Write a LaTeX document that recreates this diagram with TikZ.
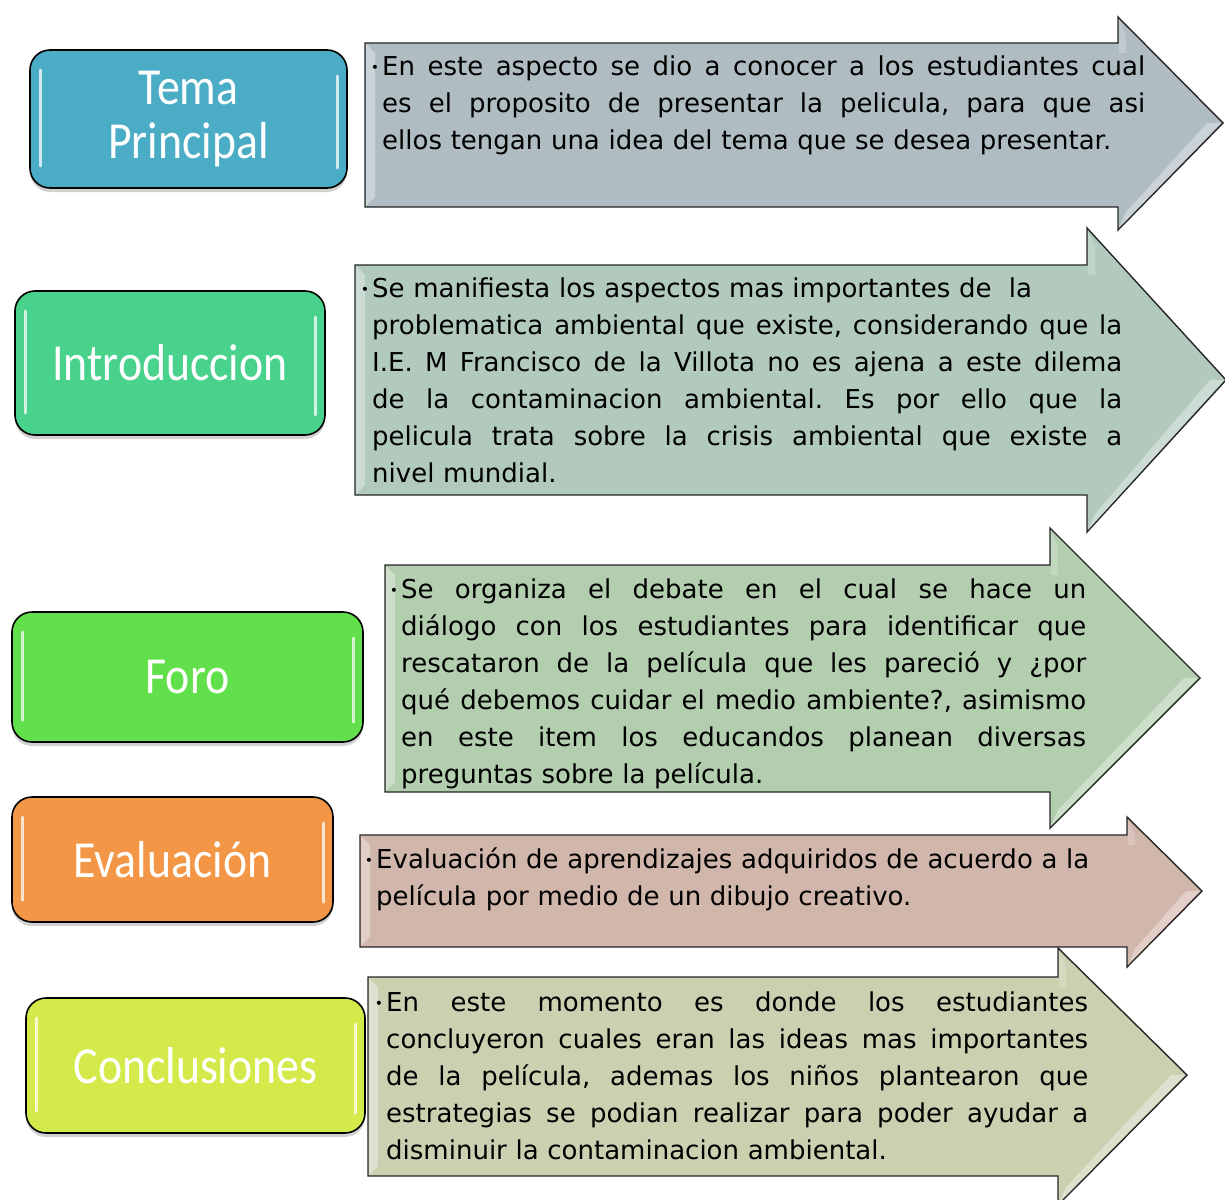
\documentclass[tikz,border=0pt]{standalone}
\usepackage{fontspec}
\setmainfont{DejaVu Sans}
\newfontfamily\labelfont{Carlito}
\usetikzlibrary{shadows}
\definecolor{cA}{HTML}{4BACC6}
\definecolor{cB}{HTML}{49D28C}
\definecolor{cC}{HTML}{62E04B}
\definecolor{cD}{HTML}{F39747}
\definecolor{cE}{HTML}{D4EA4B}
\definecolor{aA}{HTML}{AFBCC2}
\definecolor{aB}{HTML}{B1CABD}
\definecolor{aC}{HTML}{B3CDAF}
\definecolor{aD}{HTML}{D1B6AB}
\definecolor{aE}{HTML}{CDCFB1}
\newcommand{\J}[1]{\leavevmode\hbox to \hsize{\spaceskip=0pt\xspaceskip=0pt #1}}
\newcommand{\bul}{\leavevmode\llap{\raisebox{2.5pt}{\fontsize{14}{14}\selectfont\textbullet}\hspace{3pt}}}
\newcommand{\LS}[1]{\scalebox{0.88}[1]{#1}}
\tikzset{
  lbox/.style={draw=black, line width=1.6pt, rounded corners=20pt,
    drop shadow={opacity=0.35, shadow xshift=0pt, shadow yshift=-4pt},
    text=white, font=\labelfont\fontsize{52}{54}\selectfont, align=center, inner sep=0pt},
  arrowshape/.style={draw=black!85, line width=1.4pt, line join=miter},
  bevel/.style={fill=white, opacity=0.35, draw=none},
  shine/.style={white, line width=3pt, line cap=round, opacity=0.75},
  bodytext/.style={anchor=base west, inner sep=0pt, font=\fontsize{26}{37}\selectfont\frenchspacing, align=left},
}
\newcommand{\ArrowShape}[9]{% L T B HB HT tipx tipy HBot fill
  \path[arrowshape, fill=#9] (#1,#2) -- (#4,#2) -- (#4,#5) -- (#6,#7) -- (#4,#8) -- (#4,#3) -- (#1,#3) -- cycle;
  \path[bevel] (#1+1,#2+1) -- (#1+10,#2+10) -- (#1+10,#3-10) -- (#1+1,#3-1) -- cycle;
  \path[bevel] (#6-2,#7) -- (#4+1,#8-2) -- (#4+8,#8-18) -- (#6-16,#7) -- cycle;
  \path[bevel, opacity=0.2] (#4+1,#5+2) -- (#4+8,#5+18) -- (#4+8,#2+10) -- (#4+1,#2+10) -- cycle;
}
\begin{document}
\begin{tikzpicture}[x=1pt, y=-1pt]
\useasboundingbox (0,0) rectangle (1225,1199);
\clip (0,0) rectangle (1225,1199);
\fill[white] (0,0) rectangle (1225,1199);

% arrows
\ArrowShape{365}{43}{207}{1118}{17}{1223}{123}{230}{aA}
\ArrowShape{355}{265}{495}{1087}{228}{1226}{380}{532}{aB}
\ArrowShape{385}{565}{792}{1050}{528}{1200}{678}{828}{aC}
\ArrowShape{360}{835}{947}{1127}{817}{1202}{891}{967}{aD}
\ArrowShape{368}{977}{1176}{1058}{948}{1187}{1075}{1205}{aE}

% label boxes
\node[lbox, fill=cA, minimum width=317pt, minimum height=138pt] (tema) at (188.5,119) {\LS{Tema}\\\LS{Principal}};
\node[lbox, fill=cB, minimum width=310pt, minimum height=144pt] (intro) at (170,363) {\LS{Introduccion}};
\node[lbox, fill=cC, minimum width=351pt, minimum height=130pt] (foro) at (187.5,677) {\LS{Foro}};
\node[lbox, fill=cD, minimum width=321pt, minimum height=125pt] (eval) at (172.5,859.5) {\LS{Evaluación}};
\node[lbox, fill=cE, minimum width=339pt, minimum height=135pt] (concl) at (195.5,1065.5) {\LS{Conclusiones}};

% glossy highlights
\foreach \n/\l/\r/\t/\b in {tema/30/347/50/188, intro/15/325/291/435, foro/12/363/612/742, eval/12/333/797/922, concl/26/365/998/1133}{
  \draw[shine] (\l+10,\t+20) -- (\l+10,\b-22);
  \draw[shine] (\r-10,\t+26) -- (\r-10,\b-20);
}

% texts
\node[bodytext, text width=763pt] (tA) at (382,75) {\bul\J{En este aspecto se dio a conocer a los estudiantes cual}\\
\J{es el proposito de presentar la pelicula, para que asi}\\
ellos tengan una idea del tema que se desea presentar.};

\node[bodytext, text width=750pt] (tB) at (372,297) {\bul Se manifiesta los aspectos mas importantes de\ \ la\\
\J{problematica ambiental que existe, considerando que la}\\
\J{I.E. M Francisco de la Villota no es ajena a este dilema}\\
\J{de la contaminacion ambiental. Es por ello que la}\\
\J{pelicula trata sobre la crisis ambiental que existe a}\\
nivel mundial.};

\node[bodytext, text width=685pt] (tC) at (401,598) {\bul\J{Se organiza el debate en el cual se hace un}\\
\J{diálogo con los estudiantes para identificar que}\\
\J{rescataron de la película que les pareció y ¿por}\\
\J{qué debemos cuidar el medio ambiente?, asimismo}\\
\J{en este item los educandos planean diversas}\\
preguntas sobre la película.};

\node[bodytext, text width=740pt] (tD) at (376,868) {\bul Evaluación de aprendizajes adquiridos de acuerdo a la\\
película por medio de un dibujo creativo.};

\node[bodytext, text width=702pt] (tE) at (386,1011) {\bul\J{En este momento es donde los estudiantes}\\
\J{concluyeron cuales eran las ideas mas importantes}\\
\J{de la película, ademas los niños plantearon que}\\
\J{estrategias se podian realizar para poder ayudar a}\\
disminuir la contaminacion ambiental.};
\end{tikzpicture}
\end{document}
